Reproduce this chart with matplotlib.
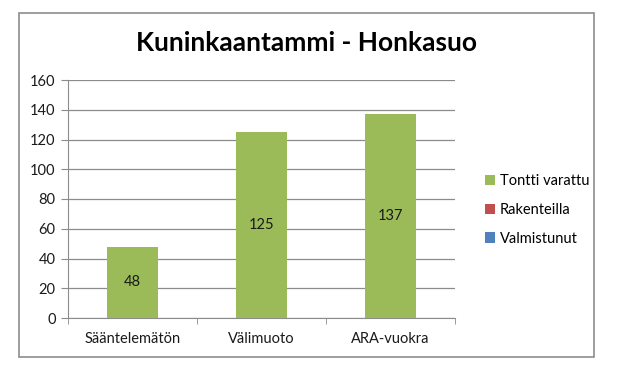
import matplotlib.pyplot as plt
import numpy as np
from matplotlib.patches import Rectangle

plt.rcParams['font.family'] = ['Lato', 'DejaVu Sans']

categories = ['Sääntelemätön', 'Välimuoto', 'ARA-vuokra']
tontti_varattu = [48, 125, 137]
rakenteilla = [0, 0, 0]
valmistunut = [0, 0, 0]

series = [
    ('Tontti varattu', tontti_varattu, '#9BBB59'),
    ('Rakenteilla', rakenteilla, '#C0504D'),
    ('Valmistunut', valmistunut, '#4F81BD'),
]

fig = plt.figure(figsize=(6.19, 3.82), dpi=100)
ax = fig.add_axes([68 / 619, 1 - 318 / 382, 387 / 619, 238 / 382])

# outer chart border
fig.patches.append(Rectangle((19 / 619, 1 - 357 / 382), 575 / 619, 344 / 382,
                             transform=fig.transFigure, fill=False,
                             edgecolor='#8c8c8c', linewidth=1.2))

x = np.arange(len(categories))
bottom = np.zeros(len(categories))
for name, vals, color in series:
    bars = ax.bar(x, vals, width=0.4, bottom=bottom, color=color, label=name, zorder=3)
    if name == 'Tontti varattu':
        for b, v in zip(bars, vals):
            ax.text(b.get_x() + b.get_width() / 2, v / 2, str(v),
                    ha='center', va='center', fontsize=10.5, color='#1a1a1a', zorder=4)
    bottom += np.array(vals)

ax.set_xlim(-0.5, 2.5)
ax.set_ylim(0, 160)
ax.set_yticks(range(0, 161, 20))
ax.yaxis.grid(True, color='#8c8c8c', linewidth=0.9, zorder=0)
ax.set_axisbelow(True)

ax.set_xticks(x)
ax.set_xticklabels(categories, fontsize=10.5, color='#1a1a1a')
ax.tick_params(axis='x', length=0, pad=10)
ax.set_xticks([-0.5, 0.5, 1.5, 2.5], minor=True)
ax.tick_params(axis='x', which='minor', length=4, color='#8c8c8c', direction='out')
ax.tick_params(axis='y', length=5, color='#8c8c8c', labelsize=10.5, labelcolor='#1a1a1a', pad=4)

for side in ['top', 'right']:
    ax.spines[side].set_visible(False)
ax.spines['left'].set_color('#8c8c8c')
ax.spines['bottom'].set_color('#8c8c8c')

fig.text(307 / 619, 1 - 43 / 382, 'Kuninkaantammi - Honkasuo', ha='center', va='center',
         fontsize=19, fontweight='bold', color='black')

ax.legend(loc='center left', bbox_to_anchor=(472 / 619, 1 - 210 / 382),
          bbox_transform=fig.transFigure, frameon=False, fontsize=10.5,
          handlelength=0.7, handleheight=0.7, handletextpad=0.3, labelspacing=1.0)

fig.savefig('out.png', dpi=100)
